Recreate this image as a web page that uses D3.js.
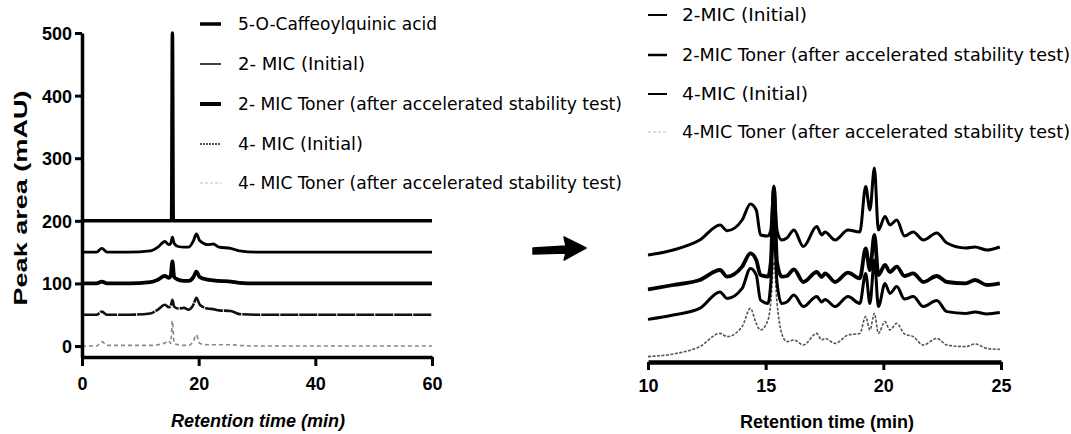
<!DOCTYPE html>
<html>
<head>
<meta charset="utf-8">
<script src="https://d3js.org/d3.v7.min.js"></script>
<style>
  body { margin: 0; background: #fff; }
  svg { display: block; }
  .tick text { font-family: "Liberation Sans", Arial, sans-serif; font-weight: bold; font-size: 18px; fill: #000; }
  .title { font-family: "Liberation Sans", Arial, sans-serif; font-weight: bold; font-size: 18px; }
  .legend text { font-family: "Liberation Sans Narrow", "DejaVu Sans Condensed", "Liberation Sans", sans-serif; font-size: 17px; }
</style>
</head>
<body>
<div id="chart"></div>
<script>
// ---- data ----
// left panel: full run, traces stacked at 0/50/100/150/200 mAU
var leftTime = [0, 2.5, 3.4, 4.3, 8, 11.7, 13, 14.2, 14.9, 15.2, 15.5, 15.8, 16.5, 17.5, 18.3, 19.1, 19.6, 20.2, 21.5, 22.5, 23.5, 25.5, 27, 30, 45, 60];
var mic2Initial = [150, 150, 156, 150, 150, 152, 158, 167, 162, 164, 174, 164, 159, 158, 158, 168, 179, 168, 162, 163, 158, 156, 152, 150, 150, 150];
var mic2Toner   = [100, 100, 103, 100, 100, 102, 106, 112, 109, 112, 135, 110, 106, 104, 104, 110, 119, 110, 106, 105, 104, 103, 101, 100, 100, 100];
var mic4Initial = [50, 50, 55, 50, 50, 52, 58, 66, 62, 64, 74, 63, 60, 61, 58, 66, 77, 66, 60, 59, 57, 56, 51, 50, 50, 50];
var mic4Toner   = [0, 0, 7, 1, 1, 1, 2, 5, 8, 4, 40, 4, 2, 1, 1, 8, 18, 4, 2, 2, 2, 2, 1, 0, 0, 0];
var cqaTime  = [0, 15.35, 15.5, 15.65, 60];
var cqaValue = [200, 200, 500, 200, 200];

// right panel: zoom 10-25 min (relative units)
var zoomTime = [10, 11.07, 12.2, 13.06, 13.36, 14.0, 14.35, 14.6, 14.78, 15.1, 15.22, 15.35, 15.48, 15.68, 15.9, 16.2, 16.6, 17.17, 17.38, 17.52, 17.95, 18.5, 19.0, 19.25, 19.43, 19.62, 19.79, 20.07, 20.28, 20.57, 20.9, 21.27, 21.7, 22.27, 22.7, 23.5, 23.9, 24.4, 24.95];
var zMic2Initial = [53.5, 56, 61, 68.5, 65.6, 71, 79, 76, 63.5, 63, 66, 88, 66, 61, 62, 66, 57.7, 67.7, 63.5, 65, 61, 66, 65, 87.7, 76, 97, 66, 72.7, 68.5, 71, 63, 65, 61, 64.5, 59.5, 57, 57.5, 56, 57.5];
var zMic2Toner   = [36.3, 38.5, 41, 46, 42.7, 47.7, 54.3, 51, 43.5, 42.7, 50, 87, 50, 42.7, 43, 46.3, 40, 45, 42.5, 44.3, 40, 44.7, 41.8, 56.8, 46, 63.5, 43.5, 48.5, 45, 47.7, 43, 44.3, 40, 43, 40, 39.3, 41, 38.5, 39.3];
var zMic4Initial = [21.3, 23.5, 26.8, 35, 31.8, 36.8, 46.8, 43.5, 31, 29.3, 40, 68, 40, 29.3, 30, 33.5, 27.7, 32.7, 30, 31.3, 27.7, 32.7, 29.3, 44.3, 29.3, 51, 27.7, 39.3, 34.3, 37.7, 31.5, 32.7, 27.7, 30.7, 25.2, 24.3, 25, 24, 24.7];
var zMic4Toner   = [2.7, 4, 7.7, 14.3, 12.7, 17.7, 26.8, 19.3, 16, 21, 30, 50, 30, 14.3, 10.2, 11, 8.5, 14.3, 11, 11.8, 9.3, 13.5, 14.3, 22.7, 16, 24.3, 14.3, 20.2, 16, 19.3, 14, 12.7, 8.5, 11.8, 8.5, 7.7, 9, 6.8, 6.3];

var leftTicksX = [0, 20, 40, 60];
var leftTicksY = [0, 100, 200, 300, 400, 500];
var zoomTicksX = [10, 15, 20, 25];

var leftLabels = ["5-O-Caffeoylquinic acid", "2- MIC (Initial)", "2- MIC Toner (after accelerated stability test)", "4- MIC (Initial)", "4- MIC Toner (after accelerated stability test)"];
var zoomLabels = ["2-MIC (Initial)", "2-MIC Toner (after accelerated stability test)", "4-MIC (Initial)", "4-MIC Toner (after accelerated stability test)"];

// ---- styles per series ----
var leftStyles = [
  {w: 3.5, c: "#000", dash: null},
  {w: 2.8, c: "#000", dash: null},
  {w: 3.8, c: "#000", dash: null},
  {w: 2.6, c: "#111", dash: "18,1"},
  {w: 1.6, c: "#888", dash: "4,3"}
];
var legendLeftStyles = [
  {w: 3.5, c: "#000", dash: null},
  {w: 1.5, c: "#000", dash: null},
  {w: 4, c: "#000", dash: null},
  {w: 2, c: "#555", dash: "2,1"},
  {w: 1.2, c: "#bbb", dash: "3,2"}
];
var zoomStyles = [
  {w: 3, c: "#000", dash: null},
  {w: 3.8, c: "#000", dash: null},
  {w: 3, c: "#000", dash: null},
  {w: 1.6, c: "#555", dash: "3,1.5"}
];
var legendZoomStyles = [
  {w: 2, c: "#000", dash: null},
  {w: 2.5, c: "#000", dash: null},
  {w: 2, c: "#000", dash: null},
  {w: 1.2, c: "#bbb", dash: "3,2"}
];

var svg = d3.select("#chart").append("svg")
  .attr("width", 1071)
  .attr("height", 434);

// ---- left panel ----
var x = d3.scaleLinear().domain([0, 60]).range([82, 432]);
var y = d3.scaleLinear().domain([-17.5, 500]).range([357, 33]);

function toPoints(times, vals) {
  return times.map(function (t, i) { return [t, vals[i]]; });
}

var leftLine = d3.line()
  .curve(d3.curveMonotoneX)
  .x(function (d) { return x(d[0]); })
  .y(function (d) { return y(d[1]); });

var leftSeries = [
  toPoints(cqaTime, cqaValue),
  toPoints(leftTime, mic2Initial),
  toPoints(leftTime, mic2Toner),
  toPoints(leftTime, mic4Initial),
  toPoints(leftTime, mic4Toner)
];

// draw lightest first
for (var i = leftSeries.length - 1; i >= 0; i--) {
  svg.append("path")
    .datum(leftSeries[i])
    .attr("fill", "none")
    .attr("stroke", leftStyles[i].c)
    .attr("stroke-width", leftStyles[i].w)
    .attr("stroke-dasharray", leftStyles[i].dash)
    .attr("stroke-linejoin", "round")
    .attr("d", leftLine);
}

var xAxisL = svg.append("g")
  .attr("transform", "translate(0,357)")
  .call(d3.axisBottom(x).tickValues(leftTicksX).tickSize(9).tickSizeOuter(0).tickPadding(11));
var yAxisL = svg.append("g")
  .attr("transform", "translate(82,0)")
  .call(d3.axisLeft(y).tickValues(leftTicksY).tickSize(7).tickSizeOuter(0).tickPadding(3));

[xAxisL, yAxisL].forEach(function (g) {
  g.select(".domain").attr("stroke-width", 3.5);
  g.selectAll(".tick line").attr("stroke-width", 3);
});
yAxisL.selectAll(".tick text").attr("dy", "0.36em");

svg.append("text").attr("class", "title")
  .attr("x", 258).attr("y", 427)
  .attr("text-anchor", "middle")
  .attr("font-style", "italic")
  .text("Retention time (min)");

svg.append("text").attr("class", "title")
  .attr("transform", "translate(27,198) rotate(-90)")
  .attr("text-anchor", "middle")
  .attr("font-size", "20px")
  .attr("textLength", 215)
  .attr("lengthAdjust", "spacingAndGlyphs")
  .text("Peak area (mAU)");

// ---- left legend ----
var legL = svg.append("g").attr("class", "legend");
var legLY = [24, 64, 104, 144, 183];
var legLW = [199, 127, 384, 125, 384];
leftLabels.forEach(function (lab, i) {
  legL.append("line")
    .attr("x1", 200).attr("x2", 221)
    .attr("y1", legLY[i]).attr("y2", legLY[i])
    .attr("stroke", legendLeftStyles[i].c)
    .attr("stroke-width", legendLeftStyles[i].w)
    .attr("stroke-dasharray", legendLeftStyles[i].dash);
  legL.append("text")
    .attr("x", 238).attr("y", legLY[i] + 6)
    .attr("textLength", legLW[i])
    .attr("lengthAdjust", "spacingAndGlyphs")
    .text(lab);
});

// ---- arrow ----
svg.append("path")
  .attr("d", "M533,248 L566,246 L564,237 L586,248 L564,260 L566,253 L533,254 Z")
  .attr("fill", "#000")
  .attr("stroke", "#000")
  .attr("stroke-width", 1.5)
  .attr("stroke-linejoin", "round");

// ---- right panel ----
var x2 = d3.scaleLinear().domain([10, 25]).range([648, 1001]);
var y2 = d3.scaleLinear().domain([0, 100]).range([362, 162]);

var zoomLine = d3.line()
  .curve(d3.curveMonotoneX)
  .x(function (d) { return x2(d[0]); })
  .y(function (d) { return y2(d[1]); });

var zoomSeries = [
  toPoints(zoomTime, zMic2Initial),
  toPoints(zoomTime, zMic2Toner),
  toPoints(zoomTime, zMic4Initial),
  toPoints(zoomTime, zMic4Toner)
];

for (var j = zoomSeries.length - 1; j >= 0; j--) {
  svg.append("path")
    .datum(zoomSeries[j])
    .attr("fill", "none")
    .attr("stroke", zoomStyles[j].c)
    .attr("stroke-width", zoomStyles[j].w)
    .attr("stroke-dasharray", zoomStyles[j].dash)
    .attr("stroke-linejoin", "round")
    .attr("d", zoomLine);
}

var xAxisR = svg.append("g")
  .attr("transform", "translate(0,362)")
  .call(d3.axisBottom(x2).tickValues(zoomTicksX).tickSize(8).tickSizeOuter(0).tickPadding(9));
xAxisR.select(".domain").attr("stroke-width", 4.5);
xAxisR.selectAll(".tick line").attr("stroke-width", 3);

svg.append("text").attr("class", "title")
  .attr("x", 827).attr("y", 428)
  .attr("text-anchor", "middle")
  .text("Retention time (min)");

// ---- right legend ----
var legR = svg.append("g").attr("class", "legend");
var legRY = [15, 55, 94, 132];
var legRW = [125, 388, 126, 388];
zoomLabels.forEach(function (lab, i) {
  legR.append("line")
    .attr("x1", 648).attr("x2", 667)
    .attr("y1", legRY[i]).attr("y2", legRY[i])
    .attr("stroke", legendZoomStyles[i].c)
    .attr("stroke-width", legendZoomStyles[i].w)
    .attr("stroke-dasharray", legendZoomStyles[i].dash);
  legR.append("text")
    .attr("x", 682).attr("y", legRY[i] + 6)
    .attr("textLength", legRW[i])
    .attr("lengthAdjust", "spacingAndGlyphs")
    .text(lab);
});
</script>
</body>
</html>
